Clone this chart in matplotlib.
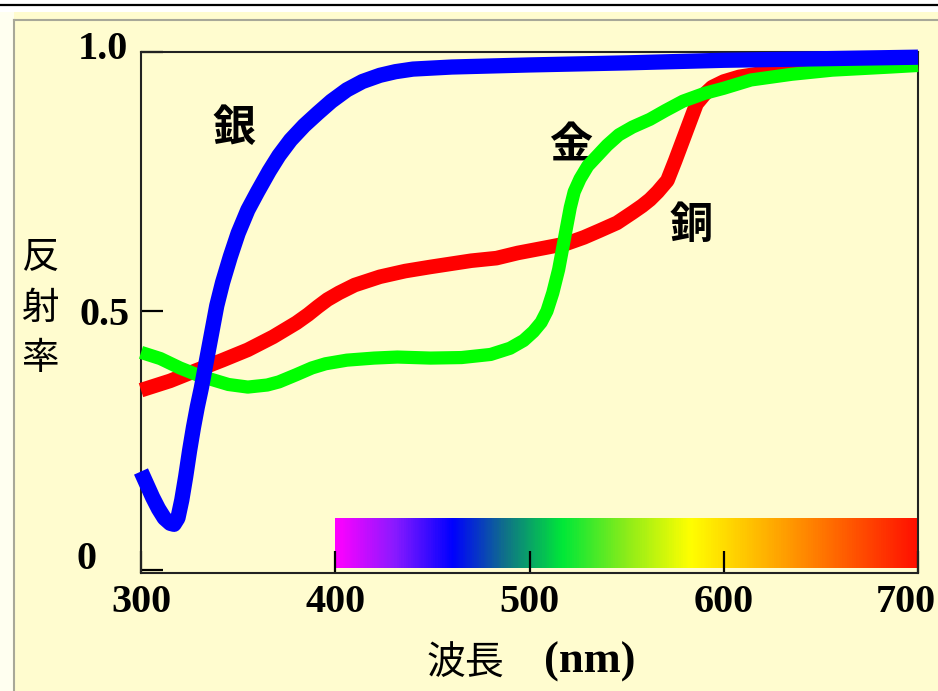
import numpy as np
import matplotlib
matplotlib.use("Agg")
import matplotlib.pyplot as plt
from matplotlib.colors import LinearSegmentedColormap
from matplotlib.patches import Rectangle
from matplotlib.lines import Line2D
from matplotlib.transforms import ScaledTranslation

# reflectance curves (wavelength nm, reflectance)
silver_nm = [300, 303, 306, 309, 312, 315, 317, 319, 321, 323, 325, 327, 329, 331, 333,
             336, 339, 342, 346, 350, 355, 360, 366, 371, 377, 384, 391, 398, 406, 414,
             423, 431, 440, 450, 460, 500, 550, 600, 650, 700]
silver_r = [0.19, 0.165, 0.14, 0.118, 0.10, 0.09, 0.088, 0.10, 0.135, 0.18, 0.23, 0.275,
            0.315, 0.35, 0.39, 0.45, 0.51, 0.555, 0.605, 0.65, 0.695, 0.73, 0.77, 0.80,
            0.83, 0.858, 0.882, 0.905, 0.927, 0.943, 0.955, 0.962, 0.967, 0.969, 0.971,
            0.975, 0.979, 0.984, 0.987, 0.99]

copper_nm = [300, 315, 329, 342, 355, 368, 380, 386, 391, 396, 402, 410, 423, 436, 449,
             470, 483, 494, 508, 519, 528, 536, 545, 553, 558, 562, 566, 571, 575, 579,
             583, 586, 590, 594, 600, 608, 625, 640, 660, 680, 700]
copper_r = [0.347, 0.365, 0.386, 0.405, 0.425, 0.45, 0.477, 0.493, 0.508, 0.522, 0.535,
            0.55, 0.566, 0.577, 0.585, 0.597, 0.602, 0.612, 0.622, 0.63, 0.642, 0.655,
            0.67, 0.69, 0.703, 0.715, 0.73, 0.752, 0.79, 0.83, 0.87, 0.90, 0.918, 0.932,
            0.943, 0.952, 0.962, 0.967, 0.971, 0.974, 0.977]

gold_nm = [300, 310, 320, 330, 337, 345, 355, 365, 371, 380, 388, 395, 406, 420, 432, 449,
           465, 480, 490, 497, 502, 506, 509, 512, 515, 517, 519, 521, 523, 526, 530, 535,
           540, 546, 553, 562, 570, 579, 590, 600, 614, 635, 656, 686, 700]
gold_r = [0.42, 0.408, 0.39, 0.375, 0.367, 0.358, 0.353, 0.357, 0.363, 0.377, 0.39, 0.398,
          0.405, 0.409, 0.411, 0.409, 0.41, 0.416, 0.428, 0.443, 0.46, 0.478, 0.50, 0.535,
          0.58, 0.62, 0.66, 0.70, 0.73, 0.755, 0.78, 0.80, 0.82, 0.84, 0.855, 0.87, 0.887,
          0.905, 0.92, 0.93, 0.946, 0.957, 0.965, 0.971, 0.974]

# spectrum bar colour stops
spectrum_nm = [400, 430, 460, 487, 517, 550, 583, 634, 700]
spectrum_colors = ["#ff00ff", "#8a1aff", "#0000ff", "#10708a", "#00e838", "#8cec1a",
                   "#ffff00", "#ff9a00", "#ff1000"]

x_ticks = [300, 400, 500, 600, 700]
y_ticks = [0, 0.5, 1.0]
y_ticklabels = ["0", "0.5", "1.0"]

W, H = 938, 691
bg = "#fffccf"

fig = plt.figure(figsize=(W / 100, H / 100), dpi=100, facecolor=bg)

def fx(px):
    return px / W

def fy(py):
    return 1 - py / H

# page frame decorations
fig.add_artist(Rectangle((0, fy(12)), 1, 12 / H, transform=fig.transFigure,
                         facecolor="white", edgecolor="none"))
fig.add_artist(Rectangle((0, 0), fx(14), fy(12), transform=fig.transFigure,
                         facecolor="#fffff0", edgecolor="none"))
fig.add_artist(Line2D([0, 1], [fy(4.5)] * 2, transform=fig.transFigure,
                      color="black", lw=1.6))
fig.add_artist(Line2D([fx(14), 1], [fy(20)] * 2, transform=fig.transFigure,
                      color="#a8a898", lw=1.5))
fig.add_artist(Line2D([fx(14)] * 2, [0, fy(20)], transform=fig.transFigure,
                      color="#a8a898", lw=1.5))

ax = fig.add_axes([fx(141), fy(573), fx(918 - 141), (573 - 52) / H])
ax.set_facecolor(bg)
ax.set_xlim(300, 700)
ax.set_ylim(-0.006, 1.0)

# spectrum bar
cmap = LinearSegmentedColormap.from_list(
    "spec", list(zip([(v - 400) / 300 for v in spectrum_nm], spectrum_colors)))
grad = np.linspace(0, 1, 600).reshape(1, -1)
ax.imshow(grad, cmap=cmap, extent=(400, 700, 0.004, 0.1), aspect="auto", zorder=0)

ax.plot(copper_nm, copper_r, color="#ff0000", lw=10.5, solid_capstyle="butt",
        solid_joinstyle="round", clip_on=False, zorder=3)
ax.plot(gold_nm, gold_r, color="#00ff00", lw=9.5, solid_capstyle="butt",
        solid_joinstyle="round", clip_on=False, zorder=4)
ax.plot(silver_nm, silver_r, color="#0000ff", lw=11, solid_capstyle="butt",
        solid_joinstyle="round", clip_on=False, zorder=5)

for s in ax.spines.values():
    s.set_linewidth(1.5)
    s.set_color("#222222")

tick_font = {"family": "Liberation Serif", "weight": "bold", "size": 29}
ax.set_xticks(x_ticks)
ax.set_xticklabels([str(v) for v in x_ticks], fontdict=tick_font)
ax.set_yticks(y_ticks)
ax.set_yticklabels(y_ticklabels, fontdict=tick_font)
ax.tick_params(axis="both", direction="in", length=16, width=1.6, color="black")
ax.tick_params(axis="x", pad=8)
ax.tick_params(axis="y", pad=8)

# nudge some tick labels like the original
ylabs = ax.get_yticklabels()
ylabs[0].set_transform(ylabs[0].get_transform() +
                       ScaledTranslation(-0.33, 0.15, fig.dpi_scale_trans))
ylabs[2].set_transform(ylabs[2].get_transform() +
                       ScaledTranslation(-0.02, 0.07, fig.dpi_scale_trans))
xlabs = ax.get_xticklabels()
xlabs[-1].set_transform(xlabs[-1].get_transform() +
                        ScaledTranslation(-0.12, 0, fig.dpi_scale_trans))

cjk = "Noto Sans CJK JP"
ax.text(348, 0.853, "銀", family=cjk, weight="bold", fontsize=31, ha="center", va="center")
ax.text(521, 0.82, "金", family=cjk, weight="bold", fontsize=31, ha="center", va="center")
ax.text(583, 0.666, "銅", family=cjk, weight="bold", fontsize=31, ha="center", va="center")

# y label, stacked characters
for ch, py in zip("反射率", [257, 308, 358]):
    fig.text(fx(40), fy(py), ch, family=cjk, fontsize=27, ha="center", va="center")

# x label
fig.text(fx(465), fy(664), "波長", family=cjk, fontsize=28, ha="center", va="center")
fig.text(fx(590), fy(662), "(nm)", family="Liberation Serif", weight="bold",
         fontsize=32, ha="center", va="center")

fig.savefig("out.png", dpi=100, facecolor=bg)
